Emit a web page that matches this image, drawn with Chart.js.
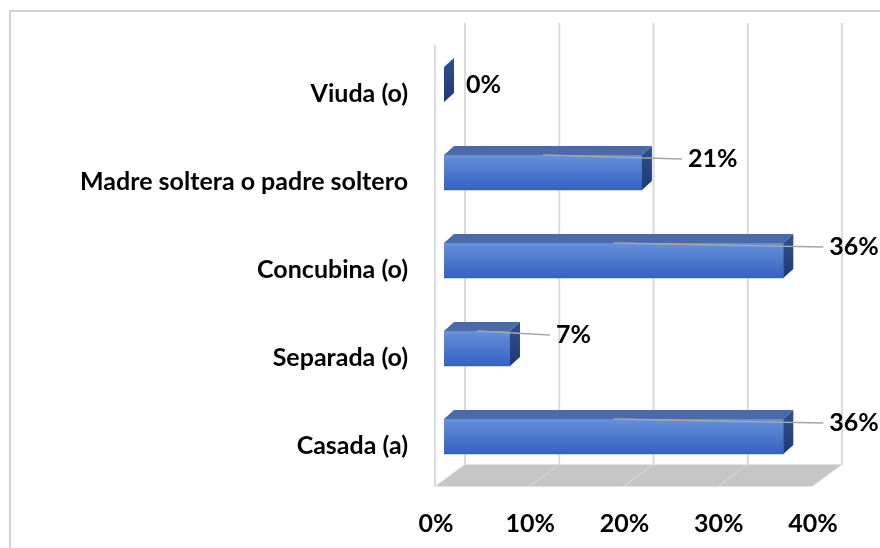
<!DOCTYPE html>
<html>
<head>
<meta charset="utf-8">
<script src="https://cdn.jsdelivr.net/npm/chart.js@4.4.0/dist/chart.umd.min.js"></script>
<style>
  html, body { margin: 0; padding: 0; background: #fff; overflow: hidden; }
  #frame { position: absolute; left: 9px; top: 10px; width: 900px; height: 600px;
           border-left: 2px solid #d0d0d0; border-top: 2px solid #d0d0d0; }
  #chart { position: absolute; left: 0; top: 0; }
</style>
</head>
<body>
<div id="frame"></div>
<canvas id="chart" width="880" height="548"></canvas>
<script>
// data
const categories = ['Viuda (o)', 'Madre soltera o padre soltero', 'Concubina (o)', 'Separada (o)', 'Casada (a)'];
const percentages = [0, 21, 36, 7, 36];
const tickValues = [0, 10, 20, 30, 40];

// fake 3D depth of the bars
const DX = 10, DY = 9;
const BAR_H = 35;
const FONT = 'Lato, "Open Sans", sans-serif';

Chart.defaults.font.family = FONT;
Chart.defaults.color = '#000';

// walls, floor and back gridlines
const box3d = {
  id: 'box3d',
  beforeDatasetsDraw(chart) {
    const { ctx, chartArea, scales: { x } } = chart;
    const frontY = chartArea.bottom + 6;
    const backY = chartArea.bottom - 16;
    const x0 = x.getPixelForValue(tickValues[0]);
    const x1 = x.getPixelForValue(tickValues[tickValues.length - 1]);
    ctx.save();
    // floor
    ctx.fillStyle = '#c6c6c6';
    ctx.beginPath();
    ctx.moveTo(x0 - 9, frontY);
    ctx.lineTo(x1 - 9, frontY);
    ctx.lineTo(x1 + 21, backY);
    ctx.lineTo(x0 + 21, backY);
    ctx.closePath();
    ctx.fill();
    // back wall gridlines + floor lines
    tickValues.forEach(v => {
      const px = x.getPixelForValue(v);
      ctx.strokeStyle = '#dadada';
      ctx.lineWidth = 2;
      ctx.beginPath();
      ctx.moveTo(px + 21, 23);
      ctx.lineTo(px + 21, backY);
      ctx.stroke();
      ctx.strokeStyle = '#dcdcdc';
      ctx.lineWidth = 1;
      ctx.beginPath();
      ctx.moveTo(px + 21, backY);
      ctx.lineTo(px - 9, frontY);
      ctx.stroke();
    });
    // left wall edge
    ctx.strokeStyle = '#dadada';
    ctx.lineWidth = 2;
    ctx.beginPath();
    ctx.moveTo(x0 - 9, 45);
    ctx.lineTo(x0 - 9, frontY);
    ctx.stroke();
    ctx.restore();
  },
  afterDatasetsDraw(chart) {
    const { ctx } = chart;
    const meta = chart.getDatasetMeta(0);
    ctx.save();
    meta.data.forEach(bar => {
      const top = bar.y - BAR_H / 2, bottom = bar.y + BAR_H / 2;
      const left = bar.base, right = bar.x;
      // top face
      ctx.fillStyle = '#4a6aa9';
      ctx.beginPath();
      ctx.moveTo(left, top);
      ctx.lineTo(right, top);
      ctx.lineTo(right + DX, top - DY);
      ctx.lineTo(left + DX, top - DY);
      ctx.closePath();
      ctx.fill();
      // side face
      const g = ctx.createLinearGradient(0, top - DY, 0, bottom);
      g.addColorStop(0, '#2f4f8e');
      g.addColorStop(1, '#1f3a72');
      ctx.fillStyle = g;
      ctx.beginPath();
      ctx.moveTo(right, top);
      ctx.lineTo(right + DX, top - DY);
      ctx.lineTo(right + DX, bottom - DY);
      ctx.lineTo(right, bottom);
      ctx.closePath();
      ctx.fill();
    });
    ctx.restore();
  }
};

// value labels; moved labels get a leader line, a zero stays at its default spot
const valueLabels = {
  id: 'valueLabels',
  afterDraw(chart) {
    const { ctx } = chart;
    const meta = chart.getDatasetMeta(0);
    ctx.save();
    ctx.font = 'bold 25px ' + FONT;
    ctx.fillStyle = '#000';
    ctx.textBaseline = 'middle';
    meta.data.forEach((bar, i) => {
      const top = bar.y - BAR_H / 2;
      let tx, ty;
      if (percentages[i] > 0) {
        tx = bar.x + DX + 36;
        ty = top + 4;
        ctx.strokeStyle = '#a6a6a6';
        ctx.lineWidth = 1.5;
        ctx.beginPath();
        ctx.moveTo((bar.base + bar.x) / 2, top);
        ctx.lineTo(tx - 6, ty);
        ctx.stroke();
      } else {
        tx = bar.x + DX + 12;
        ty = bar.y;
      }
      ctx.fillText(percentages[i] + '%', tx, ty);
    });
    ctx.restore();
  }
};

new Chart(document.getElementById('chart'), {
  type: 'bar',
  data: {
    labels: categories,
    datasets: [{
      data: percentages,
      barThickness: BAR_H,
      borderWidth: 0,
      backgroundColor: (c) => {
        const chart = c.chart;
        if (!chart.chartArea || !chart.scales.y) return '#4472c4';
        const yc = chart.scales.y.getPixelForValue(c.dataIndex);
        const g = chart.ctx.createLinearGradient(0, yc - BAR_H / 2, 0, yc + BAR_H / 2);
        g.addColorStop(0, '#6790da');
        g.addColorStop(1, '#3362c0');
        return g;
      }
    }]
  },
  options: {
    indexAxis: 'y',
    responsive: false,
    animation: false,
    layout: { padding: { top: 40.5, right: 59, left: 0, bottom: 0 } },
    plugins: { legend: { display: false }, tooltip: { enabled: false } },
    scales: {
      x: {
        min: 0, max: 40,
        grid: { display: false },
        border: { display: false },
        afterFit: (s) => { s.height = 67.5; s.paddingLeft = 0; s.paddingRight = 0; },
        ticks: {
          stepSize: 10,
          padding: 20,
          labelOffset: -8,
          font: { size: 25, weight: 'bold' },
          callback: (v) => v + '%'
        }
      },
      y: {
        grid: { display: false },
        border: { display: false },
        afterFit: (s) => { s.width = 444; s.paddingTop = 0; s.paddingBottom = 0; },
        ticks: {
          padding: 28,
          labelOffset: 9,
          font: { size: 25, weight: 'bold' }
        }
      }
    }
  },
  plugins: [box3d, valueLabels]
});
</script>
</body>
</html>
